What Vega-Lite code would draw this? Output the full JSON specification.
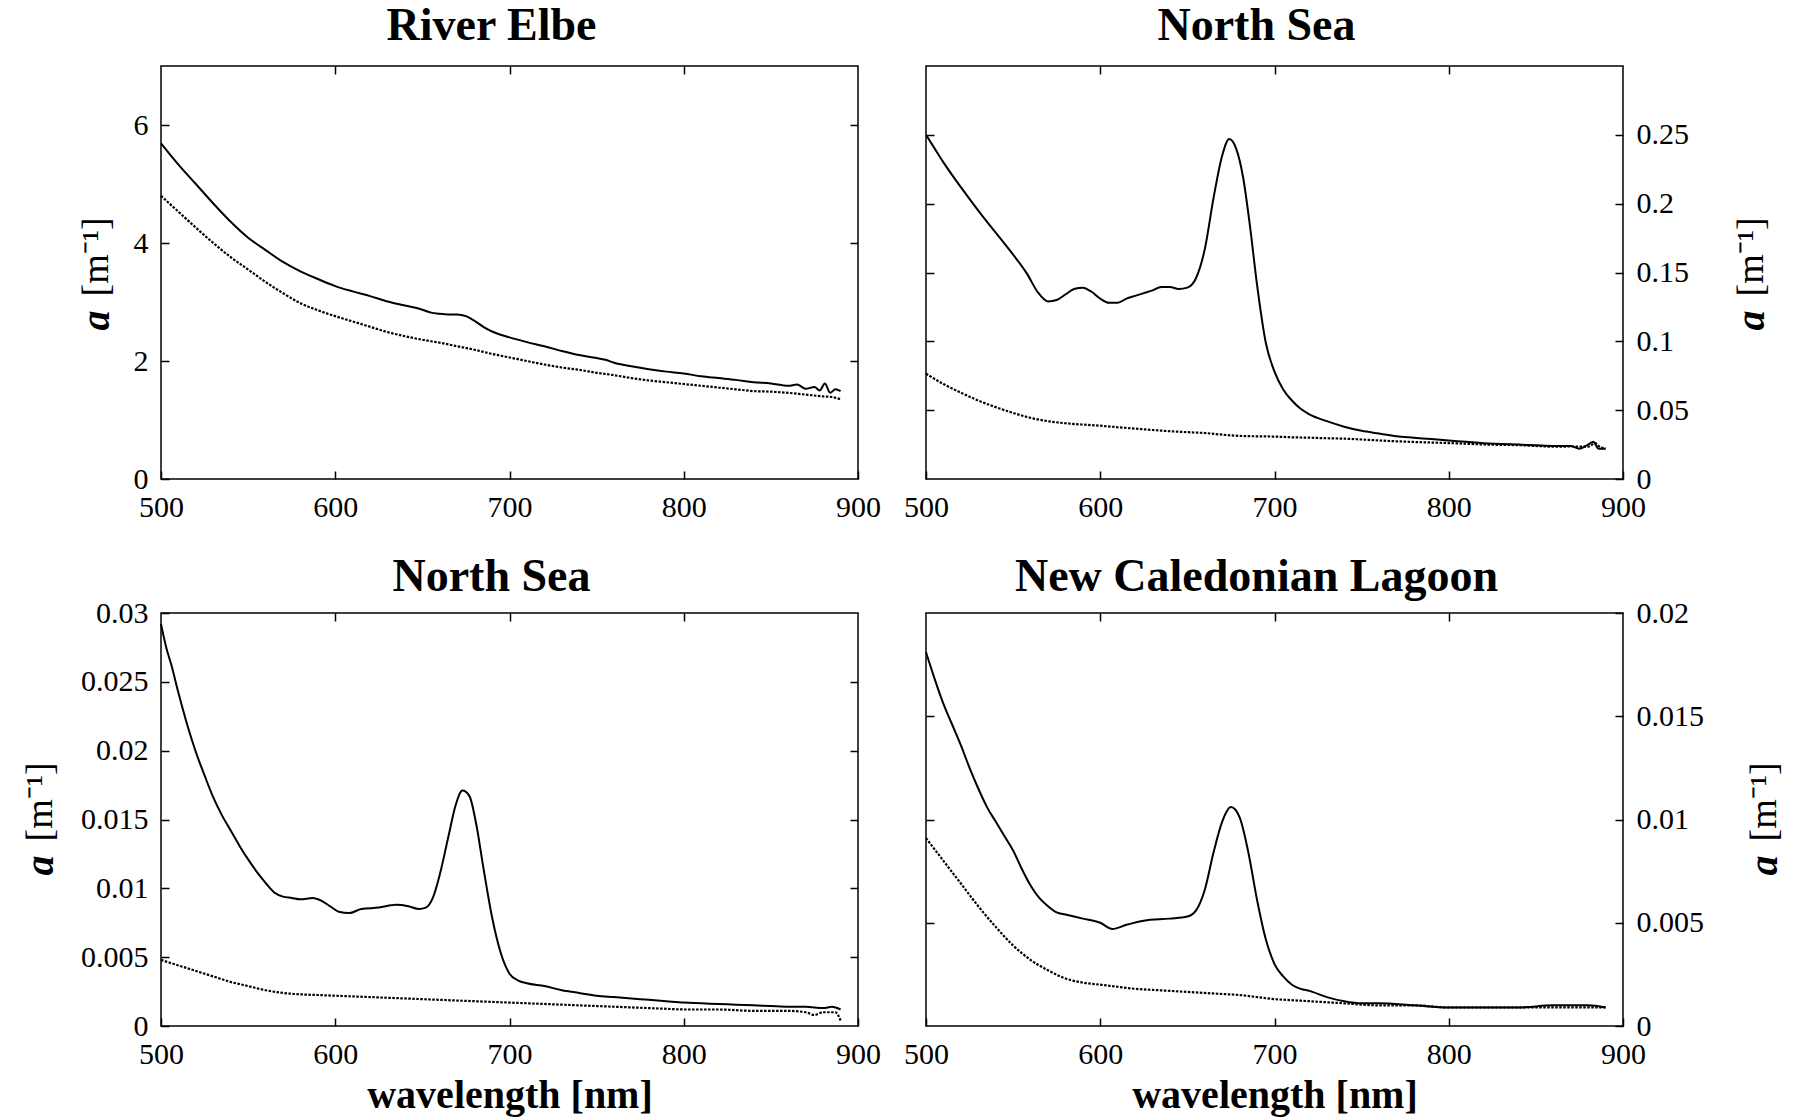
{
"$schema": "https://vega.github.io/schema/vega-lite/v6.json",
"background": "white",
"padding": {"left": 19, "top": 2, "right": 10, "bottom": 5},
"datasets": {
"spectra": [
{"panel":"elbe","curve":"total","wl":500,"a":5.69},{"panel":"elbe","curve":"total","wl":510,"a":5.33},{"panel":"elbe","curve":"total","wl":520,"a":5.00},{"panel":"elbe","curve":"total","wl":530,"a":4.67},{"panel":"elbe","curve":"total","wl":540,"a":4.36},{"panel":"elbe","curve":"total","wl":550,"a":4.09},{"panel":"elbe","curve":"total","wl":560,"a":3.88},{"panel":"elbe","curve":"total","wl":570,"a":3.68},{"panel":"elbe","curve":"total","wl":580,"a":3.52},{"panel":"elbe","curve":"total","wl":590,"a":3.39},{"panel":"elbe","curve":"total","wl":600,"a":3.27},{"panel":"elbe","curve":"total","wl":610,"a":3.18},{"panel":"elbe","curve":"total","wl":620,"a":3.10},{"panel":"elbe","curve":"total","wl":630,"a":3.01},{"panel":"elbe","curve":"total","wl":640,"a":2.94},{"panel":"elbe","curve":"total","wl":650,"a":2.87},{"panel":"elbe","curve":"total","wl":655,"a":2.82},{"panel":"elbe","curve":"total","wl":660,"a":2.80},{"panel":"elbe","curve":"total","wl":665,"a":2.79},{"panel":"elbe","curve":"total","wl":670,"a":2.79},{"panel":"elbe","curve":"total","wl":675,"a":2.76},{"panel":"elbe","curve":"total","wl":680,"a":2.68},{"panel":"elbe","curve":"total","wl":685,"a":2.58},{"panel":"elbe","curve":"total","wl":690,"a":2.50},{"panel":"elbe","curve":"total","wl":700,"a":2.40},{"panel":"elbe","curve":"total","wl":710,"a":2.32},{"panel":"elbe","curve":"total","wl":720,"a":2.25},{"panel":"elbe","curve":"total","wl":730,"a":2.17},{"panel":"elbe","curve":"total","wl":740,"a":2.10},{"panel":"elbe","curve":"total","wl":750,"a":2.05},{"panel":"elbe","curve":"total","wl":755,"a":2.02},{"panel":"elbe","curve":"total","wl":760,"a":1.97},{"panel":"elbe","curve":"total","wl":770,"a":1.91},{"panel":"elbe","curve":"total","wl":780,"a":1.86},{"panel":"elbe","curve":"total","wl":790,"a":1.82},{"panel":"elbe","curve":"total","wl":800,"a":1.79},{"panel":"elbe","curve":"total","wl":810,"a":1.74},{"panel":"elbe","curve":"total","wl":820,"a":1.71},{"panel":"elbe","curve":"total","wl":830,"a":1.68},{"panel":"elbe","curve":"total","wl":840,"a":1.64},{"panel":"elbe","curve":"total","wl":850,"a":1.62},{"panel":"elbe","curve":"total","wl":860,"a":1.58},{"panel":"elbe","curve":"total","wl":865,"a":1.60},{"panel":"elbe","curve":"total","wl":870,"a":1.53},{"panel":"elbe","curve":"total","wl":875,"a":1.56},{"panel":"elbe","curve":"total","wl":878,"a":1.50},{"panel":"elbe","curve":"total","wl":881,"a":1.62},{"panel":"elbe","curve":"total","wl":884,"a":1.46},{"panel":"elbe","curve":"total","wl":887,"a":1.52},{"panel":"elbe","curve":"total","wl":890,"a":1.49},
{"panel":"elbe","curve":"cdom","wl":500,"a":4.80},{"panel":"elbe","curve":"cdom","wl":510,"a":4.53},{"panel":"elbe","curve":"cdom","wl":520,"a":4.26},{"panel":"elbe","curve":"cdom","wl":530,"a":4.00},{"panel":"elbe","curve":"cdom","wl":540,"a":3.76},{"panel":"elbe","curve":"cdom","wl":550,"a":3.55},{"panel":"elbe","curve":"cdom","wl":560,"a":3.34},{"panel":"elbe","curve":"cdom","wl":570,"a":3.15},{"panel":"elbe","curve":"cdom","wl":580,"a":2.98},{"panel":"elbe","curve":"cdom","wl":590,"a":2.86},{"panel":"elbe","curve":"cdom","wl":600,"a":2.76},{"panel":"elbe","curve":"cdom","wl":610,"a":2.67},{"panel":"elbe","curve":"cdom","wl":620,"a":2.58},{"panel":"elbe","curve":"cdom","wl":630,"a":2.49},{"panel":"elbe","curve":"cdom","wl":640,"a":2.42},{"panel":"elbe","curve":"cdom","wl":650,"a":2.36},{"panel":"elbe","curve":"cdom","wl":660,"a":2.31},{"panel":"elbe","curve":"cdom","wl":670,"a":2.25},{"panel":"elbe","curve":"cdom","wl":680,"a":2.19},{"panel":"elbe","curve":"cdom","wl":690,"a":2.12},{"panel":"elbe","curve":"cdom","wl":700,"a":2.06},{"panel":"elbe","curve":"cdom","wl":710,"a":2.00},{"panel":"elbe","curve":"cdom","wl":720,"a":1.94},{"panel":"elbe","curve":"cdom","wl":730,"a":1.89},{"panel":"elbe","curve":"cdom","wl":740,"a":1.85},{"panel":"elbe","curve":"cdom","wl":750,"a":1.80},{"panel":"elbe","curve":"cdom","wl":760,"a":1.76},{"panel":"elbe","curve":"cdom","wl":770,"a":1.71},{"panel":"elbe","curve":"cdom","wl":780,"a":1.67},{"panel":"elbe","curve":"cdom","wl":790,"a":1.64},{"panel":"elbe","curve":"cdom","wl":800,"a":1.61},{"panel":"elbe","curve":"cdom","wl":810,"a":1.58},{"panel":"elbe","curve":"cdom","wl":820,"a":1.55},{"panel":"elbe","curve":"cdom","wl":830,"a":1.52},{"panel":"elbe","curve":"cdom","wl":840,"a":1.49},{"panel":"elbe","curve":"cdom","wl":850,"a":1.48},{"panel":"elbe","curve":"cdom","wl":860,"a":1.46},{"panel":"elbe","curve":"cdom","wl":870,"a":1.43},{"panel":"elbe","curve":"cdom","wl":880,"a":1.40},{"panel":"elbe","curve":"cdom","wl":885,"a":1.39},{"panel":"elbe","curve":"cdom","wl":890,"a":1.35},
{"panel":"ns1","curve":"total","wl":500,"a":0.250},{"panel":"ns1","curve":"total","wl":505,"a":0.240},{"panel":"ns1","curve":"total","wl":510,"a":0.230},{"panel":"ns1","curve":"total","wl":520,"a":0.212},{"panel":"ns1","curve":"total","wl":530,"a":0.195},{"panel":"ns1","curve":"total","wl":540,"a":0.179},{"panel":"ns1","curve":"total","wl":550,"a":0.163},{"panel":"ns1","curve":"total","wl":558,"a":0.149},{"panel":"ns1","curve":"total","wl":564,"a":0.136},{"panel":"ns1","curve":"total","wl":570,"a":0.129},{"panel":"ns1","curve":"total","wl":575,"a":0.130},{"panel":"ns1","curve":"total","wl":580,"a":0.134},{"panel":"ns1","curve":"total","wl":585,"a":0.138},{"panel":"ns1","curve":"total","wl":590,"a":0.139},{"panel":"ns1","curve":"total","wl":595,"a":0.136},{"panel":"ns1","curve":"total","wl":600,"a":0.131},{"panel":"ns1","curve":"total","wl":605,"a":0.128},{"panel":"ns1","curve":"total","wl":610,"a":0.128},{"panel":"ns1","curve":"total","wl":615,"a":0.131},{"panel":"ns1","curve":"total","wl":620,"a":0.133},{"panel":"ns1","curve":"total","wl":625,"a":0.135},{"panel":"ns1","curve":"total","wl":630,"a":0.137},{"panel":"ns1","curve":"total","wl":635,"a":0.1395},{"panel":"ns1","curve":"total","wl":640,"a":0.1395},{"panel":"ns1","curve":"total","wl":645,"a":0.138},{"panel":"ns1","curve":"total","wl":650,"a":0.139},{"panel":"ns1","curve":"total","wl":655,"a":0.146},{"panel":"ns1","curve":"total","wl":660,"a":0.167},{"panel":"ns1","curve":"total","wl":665,"a":0.204},{"panel":"ns1","curve":"total","wl":670,"a":0.235},{"panel":"ns1","curve":"total","wl":674,"a":0.247},{"panel":"ns1","curve":"total","wl":678,"a":0.240},{"panel":"ns1","curve":"total","wl":682,"a":0.219},{"panel":"ns1","curve":"total","wl":686,"a":0.183},{"panel":"ns1","curve":"total","wl":690,"a":0.141},{"panel":"ns1","curve":"total","wl":695,"a":0.099},{"panel":"ns1","curve":"total","wl":700,"a":0.078},{"panel":"ns1","curve":"total","wl":705,"a":0.065},{"panel":"ns1","curve":"total","wl":710,"a":0.057},{"panel":"ns1","curve":"total","wl":715,"a":0.051},{"panel":"ns1","curve":"total","wl":720,"a":0.047},{"panel":"ns1","curve":"total","wl":730,"a":0.042},{"panel":"ns1","curve":"total","wl":740,"a":0.038},{"panel":"ns1","curve":"total","wl":750,"a":0.035},{"panel":"ns1","curve":"total","wl":760,"a":0.033},{"panel":"ns1","curve":"total","wl":770,"a":0.031},{"panel":"ns1","curve":"total","wl":780,"a":0.030},{"panel":"ns1","curve":"total","wl":790,"a":0.029},{"panel":"ns1","curve":"total","wl":800,"a":0.028},{"panel":"ns1","curve":"total","wl":810,"a":0.027},{"panel":"ns1","curve":"total","wl":820,"a":0.026},{"panel":"ns1","curve":"total","wl":830,"a":0.0255},{"panel":"ns1","curve":"total","wl":840,"a":0.025},{"panel":"ns1","curve":"total","wl":850,"a":0.0245},{"panel":"ns1","curve":"total","wl":860,"a":0.024},{"panel":"ns1","curve":"total","wl":870,"a":0.024},{"panel":"ns1","curve":"total","wl":875,"a":0.022},{"panel":"ns1","curve":"total","wl":880,"a":0.025},{"panel":"ns1","curve":"total","wl":883,"a":0.027},{"panel":"ns1","curve":"total","wl":886,"a":0.022},{"panel":"ns1","curve":"total","wl":890,"a":0.022},
{"panel":"ns1","curve":"cdom","wl":500,"a":0.0765},{"panel":"ns1","curve":"cdom","wl":510,"a":0.069},{"panel":"ns1","curve":"cdom","wl":520,"a":0.0627},{"panel":"ns1","curve":"cdom","wl":530,"a":0.057},{"panel":"ns1","curve":"cdom","wl":540,"a":0.0522},{"panel":"ns1","curve":"cdom","wl":550,"a":0.048},{"panel":"ns1","curve":"cdom","wl":560,"a":0.0444},{"panel":"ns1","curve":"cdom","wl":570,"a":0.042},{"panel":"ns1","curve":"cdom","wl":580,"a":0.0405},{"panel":"ns1","curve":"cdom","wl":590,"a":0.0395},{"panel":"ns1","curve":"cdom","wl":600,"a":0.0387},{"panel":"ns1","curve":"cdom","wl":610,"a":0.0376},{"panel":"ns1","curve":"cdom","wl":620,"a":0.0366},{"panel":"ns1","curve":"cdom","wl":630,"a":0.0356},{"panel":"ns1","curve":"cdom","wl":640,"a":0.0347},{"panel":"ns1","curve":"cdom","wl":650,"a":0.034},{"panel":"ns1","curve":"cdom","wl":660,"a":0.0334},{"panel":"ns1","curve":"cdom","wl":670,"a":0.0322},{"panel":"ns1","curve":"cdom","wl":680,"a":0.0313},{"panel":"ns1","curve":"cdom","wl":690,"a":0.031},{"panel":"ns1","curve":"cdom","wl":700,"a":0.0308},{"panel":"ns1","curve":"cdom","wl":710,"a":0.0303},{"panel":"ns1","curve":"cdom","wl":720,"a":0.0300},{"panel":"ns1","curve":"cdom","wl":730,"a":0.0296},{"panel":"ns1","curve":"cdom","wl":740,"a":0.0293},{"panel":"ns1","curve":"cdom","wl":750,"a":0.0287},{"panel":"ns1","curve":"cdom","wl":760,"a":0.0280},{"panel":"ns1","curve":"cdom","wl":770,"a":0.0274},{"panel":"ns1","curve":"cdom","wl":780,"a":0.0269},{"panel":"ns1","curve":"cdom","wl":790,"a":0.0265},{"panel":"ns1","curve":"cdom","wl":800,"a":0.0261},{"panel":"ns1","curve":"cdom","wl":810,"a":0.0256},{"panel":"ns1","curve":"cdom","wl":820,"a":0.0251},{"panel":"ns1","curve":"cdom","wl":830,"a":0.0248},{"panel":"ns1","curve":"cdom","wl":840,"a":0.0246},{"panel":"ns1","curve":"cdom","wl":850,"a":0.024},{"panel":"ns1","curve":"cdom","wl":860,"a":0.0235},{"panel":"ns1","curve":"cdom","wl":870,"a":0.0236},{"panel":"ns1","curve":"cdom","wl":880,"a":0.0235},{"panel":"ns1","curve":"cdom","wl":884,"a":0.026},{"panel":"ns1","curve":"cdom","wl":887,"a":0.023},{"panel":"ns1","curve":"cdom","wl":890,"a":0.0222},
{"panel":"ns2","curve":"total","wl":500,"a":0.0292},{"panel":"ns2","curve":"total","wl":503,"a":0.0275},{"panel":"ns2","curve":"total","wl":506,"a":0.0262},{"panel":"ns2","curve":"total","wl":510,"a":0.0242},{"panel":"ns2","curve":"total","wl":515,"a":0.0219},{"panel":"ns2","curve":"total","wl":520,"a":0.0199},{"panel":"ns2","curve":"total","wl":525,"a":0.0182},{"panel":"ns2","curve":"total","wl":530,"a":0.0166},{"panel":"ns2","curve":"total","wl":535,"a":0.0153},{"panel":"ns2","curve":"total","wl":540,"a":0.0142},{"panel":"ns2","curve":"total","wl":545,"a":0.0131},{"panel":"ns2","curve":"total","wl":550,"a":0.0121},{"panel":"ns2","curve":"total","wl":555,"a":0.0112},{"panel":"ns2","curve":"total","wl":560,"a":0.0104},{"panel":"ns2","curve":"total","wl":565,"a":0.0097},{"panel":"ns2","curve":"total","wl":570,"a":0.0094},{"panel":"ns2","curve":"total","wl":575,"a":0.0093},{"panel":"ns2","curve":"total","wl":580,"a":0.0092},{"panel":"ns2","curve":"total","wl":587,"a":0.0093},{"panel":"ns2","curve":"total","wl":592,"a":0.0091},{"panel":"ns2","curve":"total","wl":597,"a":0.0087},{"panel":"ns2","curve":"total","wl":602,"a":0.0083},{"panel":"ns2","curve":"total","wl":608,"a":0.0082},{"panel":"ns2","curve":"total","wl":615,"a":0.0085},{"panel":"ns2","curve":"total","wl":625,"a":0.0086},{"panel":"ns2","curve":"total","wl":635,"a":0.0088},{"panel":"ns2","curve":"total","wl":642,"a":0.0087},{"panel":"ns2","curve":"total","wl":648,"a":0.0085},{"panel":"ns2","curve":"total","wl":652,"a":0.0086},{"panel":"ns2","curve":"total","wl":656,"a":0.0093},{"panel":"ns2","curve":"total","wl":660,"a":0.0110},{"panel":"ns2","curve":"total","wl":665,"a":0.0138},{"panel":"ns2","curve":"total","wl":669,"a":0.0160},{"panel":"ns2","curve":"total","wl":673,"a":0.0171},{"panel":"ns2","curve":"total","wl":677,"a":0.0167},{"panel":"ns2","curve":"total","wl":681,"a":0.0146},{"panel":"ns2","curve":"total","wl":685,"a":0.0115},{"panel":"ns2","curve":"total","wl":690,"a":0.0079},{"panel":"ns2","curve":"total","wl":695,"a":0.0053},{"panel":"ns2","curve":"total","wl":700,"a":0.0038},{"panel":"ns2","curve":"total","wl":705,"a":0.0033},{"panel":"ns2","curve":"total","wl":710,"a":0.0031},{"panel":"ns2","curve":"total","wl":720,"a":0.0029},{"panel":"ns2","curve":"total","wl":730,"a":0.0026},{"panel":"ns2","curve":"total","wl":740,"a":0.0024},{"panel":"ns2","curve":"total","wl":750,"a":0.0022},{"panel":"ns2","curve":"total","wl":760,"a":0.0021},{"panel":"ns2","curve":"total","wl":770,"a":0.0020},{"panel":"ns2","curve":"total","wl":780,"a":0.0019},{"panel":"ns2","curve":"total","wl":790,"a":0.0018},{"panel":"ns2","curve":"total","wl":800,"a":0.0017},{"panel":"ns2","curve":"total","wl":810,"a":0.00165},{"panel":"ns2","curve":"total","wl":820,"a":0.0016},{"panel":"ns2","curve":"total","wl":830,"a":0.00155},{"panel":"ns2","curve":"total","wl":840,"a":0.0015},{"panel":"ns2","curve":"total","wl":850,"a":0.00145},{"panel":"ns2","curve":"total","wl":860,"a":0.0014},{"panel":"ns2","curve":"total","wl":870,"a":0.0014},{"panel":"ns2","curve":"total","wl":880,"a":0.0013},{"panel":"ns2","curve":"total","wl":885,"a":0.0014},{"panel":"ns2","curve":"total","wl":890,"a":0.0012},
{"panel":"ns2","curve":"cdom","wl":500,"a":0.0048},{"panel":"ns2","curve":"cdom","wl":510,"a":0.0044},{"panel":"ns2","curve":"cdom","wl":520,"a":0.0040},{"panel":"ns2","curve":"cdom","wl":530,"a":0.0036},{"panel":"ns2","curve":"cdom","wl":540,"a":0.0032},{"panel":"ns2","curve":"cdom","wl":550,"a":0.0029},{"panel":"ns2","curve":"cdom","wl":560,"a":0.0026},{"panel":"ns2","curve":"cdom","wl":570,"a":0.0024},{"panel":"ns2","curve":"cdom","wl":580,"a":0.0023},{"panel":"ns2","curve":"cdom","wl":590,"a":0.00225},{"panel":"ns2","curve":"cdom","wl":600,"a":0.0022},{"panel":"ns2","curve":"cdom","wl":610,"a":0.00215},{"panel":"ns2","curve":"cdom","wl":620,"a":0.0021},{"panel":"ns2","curve":"cdom","wl":630,"a":0.00205},{"panel":"ns2","curve":"cdom","wl":640,"a":0.0020},{"panel":"ns2","curve":"cdom","wl":650,"a":0.00195},{"panel":"ns2","curve":"cdom","wl":660,"a":0.0019},{"panel":"ns2","curve":"cdom","wl":670,"a":0.00185},{"panel":"ns2","curve":"cdom","wl":680,"a":0.0018},{"panel":"ns2","curve":"cdom","wl":690,"a":0.00175},{"panel":"ns2","curve":"cdom","wl":700,"a":0.0017},{"panel":"ns2","curve":"cdom","wl":710,"a":0.00165},{"panel":"ns2","curve":"cdom","wl":720,"a":0.0016},{"panel":"ns2","curve":"cdom","wl":730,"a":0.00155},{"panel":"ns2","curve":"cdom","wl":740,"a":0.0015},{"panel":"ns2","curve":"cdom","wl":750,"a":0.00145},{"panel":"ns2","curve":"cdom","wl":760,"a":0.0014},{"panel":"ns2","curve":"cdom","wl":770,"a":0.00135},{"panel":"ns2","curve":"cdom","wl":780,"a":0.0013},{"panel":"ns2","curve":"cdom","wl":790,"a":0.00125},{"panel":"ns2","curve":"cdom","wl":800,"a":0.0012},{"panel":"ns2","curve":"cdom","wl":820,"a":0.0012},{"panel":"ns2","curve":"cdom","wl":840,"a":0.0011},{"panel":"ns2","curve":"cdom","wl":860,"a":0.0011},{"panel":"ns2","curve":"cdom","wl":870,"a":0.0010},{"panel":"ns2","curve":"cdom","wl":875,"a":0.0008},{"panel":"ns2","curve":"cdom","wl":880,"a":0.0010},{"panel":"ns2","curve":"cdom","wl":887,"a":0.0010},{"panel":"ns2","curve":"cdom","wl":890,"a":0.0004},
{"panel":"ncl","curve":"total","wl":500,"a":0.0181},{"panel":"ncl","curve":"total","wl":505,"a":0.0168},{"panel":"ncl","curve":"total","wl":510,"a":0.0156},{"panel":"ncl","curve":"total","wl":515,"a":0.0146},{"panel":"ncl","curve":"total","wl":520,"a":0.0136},{"panel":"ncl","curve":"total","wl":525,"a":0.0125},{"panel":"ncl","curve":"total","wl":530,"a":0.0115},{"panel":"ncl","curve":"total","wl":535,"a":0.0106},{"panel":"ncl","curve":"total","wl":540,"a":0.0099},{"panel":"ncl","curve":"total","wl":545,"a":0.0092},{"panel":"ncl","curve":"total","wl":550,"a":0.0085},{"panel":"ncl","curve":"total","wl":555,"a":0.0076},{"panel":"ncl","curve":"total","wl":560,"a":0.0068},{"panel":"ncl","curve":"total","wl":565,"a":0.0062},{"panel":"ncl","curve":"total","wl":570,"a":0.0058},{"panel":"ncl","curve":"total","wl":575,"a":0.0055},{"panel":"ncl","curve":"total","wl":580,"a":0.0054},{"panel":"ncl","curve":"total","wl":590,"a":0.0052},{"panel":"ncl","curve":"total","wl":600,"a":0.0050},{"panel":"ncl","curve":"total","wl":607,"a":0.0047},{"panel":"ncl","curve":"total","wl":615,"a":0.0049},{"panel":"ncl","curve":"total","wl":625,"a":0.0051},{"panel":"ncl","curve":"total","wl":640,"a":0.0052},{"panel":"ncl","curve":"total","wl":650,"a":0.0053},{"panel":"ncl","curve":"total","wl":655,"a":0.0056},{"panel":"ncl","curve":"total","wl":660,"a":0.0066},{"panel":"ncl","curve":"total","wl":665,"a":0.0084},{"panel":"ncl","curve":"total","wl":670,"a":0.0099},{"panel":"ncl","curve":"total","wl":675,"a":0.0106},{"panel":"ncl","curve":"total","wl":680,"a":0.0101},{"panel":"ncl","curve":"total","wl":685,"a":0.0084},{"panel":"ncl","curve":"total","wl":690,"a":0.0061},{"panel":"ncl","curve":"total","wl":695,"a":0.0042},{"panel":"ncl","curve":"total","wl":700,"a":0.0030},{"panel":"ncl","curve":"total","wl":705,"a":0.0024},{"panel":"ncl","curve":"total","wl":710,"a":0.0020},{"panel":"ncl","curve":"total","wl":715,"a":0.0018},{"panel":"ncl","curve":"total","wl":720,"a":0.0017},{"panel":"ncl","curve":"total","wl":730,"a":0.0014},{"panel":"ncl","curve":"total","wl":740,"a":0.0012},{"panel":"ncl","curve":"total","wl":750,"a":0.0011},{"panel":"ncl","curve":"total","wl":760,"a":0.0011},{"panel":"ncl","curve":"total","wl":780,"a":0.0010},{"panel":"ncl","curve":"total","wl":800,"a":0.0009},{"panel":"ncl","curve":"total","wl":820,"a":0.0009},{"panel":"ncl","curve":"total","wl":840,"a":0.0009},{"panel":"ncl","curve":"total","wl":860,"a":0.0010},{"panel":"ncl","curve":"total","wl":880,"a":0.0010},{"panel":"ncl","curve":"total","wl":890,"a":0.0009},
{"panel":"ncl","curve":"cdom","wl":500,"a":0.0091},{"panel":"ncl","curve":"cdom","wl":510,"a":0.0080},{"panel":"ncl","curve":"cdom","wl":520,"a":0.0069},{"panel":"ncl","curve":"cdom","wl":530,"a":0.0058},{"panel":"ncl","curve":"cdom","wl":540,"a":0.0048},{"panel":"ncl","curve":"cdom","wl":550,"a":0.0039},{"panel":"ncl","curve":"cdom","wl":560,"a":0.0032},{"panel":"ncl","curve":"cdom","wl":570,"a":0.0027},{"panel":"ncl","curve":"cdom","wl":580,"a":0.0023},{"panel":"ncl","curve":"cdom","wl":590,"a":0.0021},{"panel":"ncl","curve":"cdom","wl":600,"a":0.0020},{"panel":"ncl","curve":"cdom","wl":610,"a":0.0019},{"panel":"ncl","curve":"cdom","wl":620,"a":0.0018},{"panel":"ncl","curve":"cdom","wl":630,"a":0.00175},{"panel":"ncl","curve":"cdom","wl":640,"a":0.0017},{"panel":"ncl","curve":"cdom","wl":650,"a":0.00165},{"panel":"ncl","curve":"cdom","wl":660,"a":0.0016},{"panel":"ncl","curve":"cdom","wl":670,"a":0.00155},{"panel":"ncl","curve":"cdom","wl":680,"a":0.0015},{"panel":"ncl","curve":"cdom","wl":690,"a":0.0014},{"panel":"ncl","curve":"cdom","wl":700,"a":0.0013},{"panel":"ncl","curve":"cdom","wl":710,"a":0.00125},{"panel":"ncl","curve":"cdom","wl":720,"a":0.0012},{"panel":"ncl","curve":"cdom","wl":730,"a":0.00115},{"panel":"ncl","curve":"cdom","wl":740,"a":0.0011},{"panel":"ncl","curve":"cdom","wl":760,"a":0.0010},{"panel":"ncl","curve":"cdom","wl":780,"a":0.0010},{"panel":"ncl","curve":"cdom","wl":800,"a":0.0009},{"panel":"ncl","curve":"cdom","wl":840,"a":0.0009},{"panel":"ncl","curve":"cdom","wl":890,"a":0.0009}
]
},
"data": {"name": "spectra"},
"columns": 2,
"spacing": {"row": 134, "column": 68},
"bounds": "flush",
"concat": [
{"width": 697, "height": 413,
 "title": {"text": "River Elbe", "offset": 15, "dx": -18},
 "transform": [{"filter": "datum.panel === 'elbe'"}],
 "layer": [
  {"transform": [{"filter": "datum.curve === 'total'"}],
   "mark": {"type": "line", "color": "black", "strokeWidth": 2, "interpolate": "monotone"},
   "encoding": {
    "x": {"field": "wl", "type": "quantitative", "scale": {"domain": [500, 900], "nice": false}, "axis": {"orient": "bottom", "values": [500, 600, 700, 800, 900], "title": null}},
    "y": {"field": "a", "type": "quantitative", "scale": {"domain": [0, 7], "nice": false}, "axis": {"orient": "left", "values": [0, 2, 4, 6], "title": "[m⁻¹]", "titleFontSize": 38, "titleFontWeight": "normal", "titleAngle": -90, "titleAlign": "left", "titleBaseline": "middle", "titleX": -65, "titleY": 230}}
   }},
  {"transform": [{"filter": "datum.curve === 'cdom'"}],
   "mark": {"type": "line", "color": "black", "strokeWidth": 2.2, "strokeDash": [2.5, 1.5], "interpolate": "monotone"},
   "encoding": {
    "x": {"field": "wl", "type": "quantitative", "scale": {"domain": [500, 900], "nice": false}, "axis": {"orient": "top", "values": [600, 700, 800], "labels": false, "title": null}},
    "y": {"field": "a", "type": "quantitative", "scale": {"domain": [0, 7], "nice": false}, "axis": {"orient": "right", "values": [2, 4, 6], "labels": false, "title": "a", "titleFontSize": 40, "titleFontWeight": "bold", "titleFontStyle": "italic", "titleAngle": -90, "titleAlign": "right", "titleBaseline": "middle", "titleX": -762, "titleY": 244}}
   }}
 ],
 "resolve": {"axis": {"x": "independent", "y": "independent"}}
},
{"width": 697, "height": 413,
 "title": {"text": "North Sea", "offset": 15, "dx": -18},
 "transform": [{"filter": "datum.panel === 'ns1'"}],
 "layer": [
  {"transform": [{"filter": "datum.curve === 'total'"}],
   "mark": {"type": "line", "color": "black", "strokeWidth": 2, "interpolate": "monotone"},
   "encoding": {
    "x": {"field": "wl", "type": "quantitative", "scale": {"domain": [500, 900], "nice": false}, "axis": {"orient": "bottom", "values": [500, 600, 700, 800, 900], "title": null}},
    "y": {"field": "a", "type": "quantitative", "scale": {"domain": [0, 0.3], "nice": false}, "axis": {"orient": "right", "values": [0, 0.05, 0.1, 0.15, 0.2, 0.25], "format": "~g", "title": "[m⁻¹]", "titleFontSize": 38, "titleFontWeight": "normal", "titleAngle": -90, "titleAlign": "left", "titleBaseline": "middle", "titleX": 128, "titleY": 230}}
   }},
  {"transform": [{"filter": "datum.curve === 'cdom'"}],
   "mark": {"type": "line", "color": "black", "strokeWidth": 2.2, "strokeDash": [2.5, 1.5], "interpolate": "monotone"},
   "encoding": {
    "x": {"field": "wl", "type": "quantitative", "scale": {"domain": [500, 900], "nice": false}, "axis": {"orient": "top", "values": [600, 700, 800], "labels": false, "title": null}},
    "y": {"field": "a", "type": "quantitative", "scale": {"domain": [0, 0.3], "nice": false}, "axis": {"orient": "left", "values": [0.05, 0.1, 0.15, 0.2, 0.25], "labels": false, "title": "a", "titleFontSize": 40, "titleFontWeight": "bold", "titleFontStyle": "italic", "titleAngle": -90, "titleAlign": "right", "titleBaseline": "middle", "titleX": 825, "titleY": 244}}
   }}
 ],
 "resolve": {"axis": {"x": "independent", "y": "independent"}}
},
{"width": 697, "height": 413,
 "title": {"text": "North Sea", "offset": -3, "dx": -18},
 "transform": [{"filter": "datum.panel === 'ns2'"}],
 "layer": [
  {"transform": [{"filter": "datum.curve === 'total'"}],
   "mark": {"type": "line", "color": "black", "strokeWidth": 2, "interpolate": "monotone"},
   "encoding": {
    "x": {"field": "wl", "type": "quantitative", "scale": {"domain": [500, 900], "nice": false}, "axis": {"orient": "bottom", "values": [500, 600, 700, 800, 900], "title": "wavelength [nm]", "titleFontSize": 40, "titleFontWeight": "bold", "titleBaseline": "alphabetic", "titleX": 348.5, "titleY": 81}},
    "y": {"field": "a", "type": "quantitative", "scale": {"domain": [0, 0.03], "nice": false}, "axis": {"orient": "left", "values": [0, 0.005, 0.01, 0.015, 0.02, 0.025, 0.03], "format": "~g", "title": "[m⁻¹]", "titleFontSize": 38, "titleFontWeight": "normal", "titleAngle": -90, "titleAlign": "left", "titleBaseline": "middle", "titleX": -121, "titleY": 228}}
   }},
  {"transform": [{"filter": "datum.curve === 'cdom'"}],
   "mark": {"type": "line", "color": "black", "strokeWidth": 2.2, "strokeDash": [2.5, 1.5], "interpolate": "monotone"},
   "encoding": {
    "x": {"field": "wl", "type": "quantitative", "scale": {"domain": [500, 900], "nice": false}, "axis": {"orient": "top", "values": [600, 700, 800], "labels": false, "title": null}},
    "y": {"field": "a", "type": "quantitative", "scale": {"domain": [0, 0.03], "nice": false}, "axis": {"orient": "right", "values": [0.005, 0.01, 0.015, 0.02, 0.025], "labels": false, "title": "a", "titleFontSize": 40, "titleFontWeight": "bold", "titleFontStyle": "italic", "titleAngle": -90, "titleAlign": "right", "titleBaseline": "middle", "titleX": -818, "titleY": 242}}
   }}
 ],
 "resolve": {"axis": {"x": "independent", "y": "independent"}}
},
{"width": 697, "height": 413,
 "title": {"text": "New Caledonian Lagoon", "offset": -3, "dx": -18},
 "transform": [{"filter": "datum.panel === 'ncl'"}],
 "layer": [
  {"transform": [{"filter": "datum.curve === 'total'"}],
   "mark": {"type": "line", "color": "black", "strokeWidth": 2, "interpolate": "monotone"},
   "encoding": {
    "x": {"field": "wl", "type": "quantitative", "scale": {"domain": [500, 900], "nice": false}, "axis": {"orient": "bottom", "values": [500, 600, 700, 800, 900], "title": "wavelength [nm]", "titleFontSize": 40, "titleFontWeight": "bold", "titleBaseline": "alphabetic", "titleX": 348.5, "titleY": 81}},
    "y": {"field": "a", "type": "quantitative", "scale": {"domain": [0, 0.02], "nice": false}, "axis": {"orient": "right", "values": [0, 0.005, 0.01, 0.015, 0.02], "format": "~g", "title": "[m⁻¹]", "titleFontSize": 38, "titleFontWeight": "normal", "titleAngle": -90, "titleAlign": "left", "titleBaseline": "middle", "titleX": 141, "titleY": 228}}
   }},
  {"transform": [{"filter": "datum.curve === 'cdom'"}],
   "mark": {"type": "line", "color": "black", "strokeWidth": 2.2, "strokeDash": [2.5, 1.5], "interpolate": "monotone"},
   "encoding": {
    "x": {"field": "wl", "type": "quantitative", "scale": {"domain": [500, 900], "nice": false}, "axis": {"orient": "top", "values": [600, 700, 800], "labels": false, "title": null}},
    "y": {"field": "a", "type": "quantitative", "scale": {"domain": [0, 0.02], "nice": false}, "axis": {"orient": "left", "values": [0.005, 0.01, 0.015], "labels": false, "title": "a", "titleFontSize": 40, "titleFontWeight": "bold", "titleFontStyle": "italic", "titleAngle": -90, "titleAlign": "right", "titleBaseline": "middle", "titleX": 838, "titleY": 242}}
   }}
 ],
 "resolve": {"axis": {"x": "independent", "y": "independent"}}
}
],
"config": {
 "view": {"stroke": "black", "strokeWidth": 1.5},
 "axis": {"grid": false, "domain": false, "ticks": true, "tickColor": "black", "tickWidth": 1.5, "tickSize": -8, "labelPadding": 21, "labelFont": "Liberation Serif", "labelFontSize": 30, "labelColor": "black", "labelFlush": false, "labelOverlap": false, "titleFont": "Liberation Serif", "titleColor": "black"},
 "title": {"font": "Liberation Serif", "fontSize": 46, "fontWeight": "bold", "color": "black", "anchor": "middle"}
}
}
